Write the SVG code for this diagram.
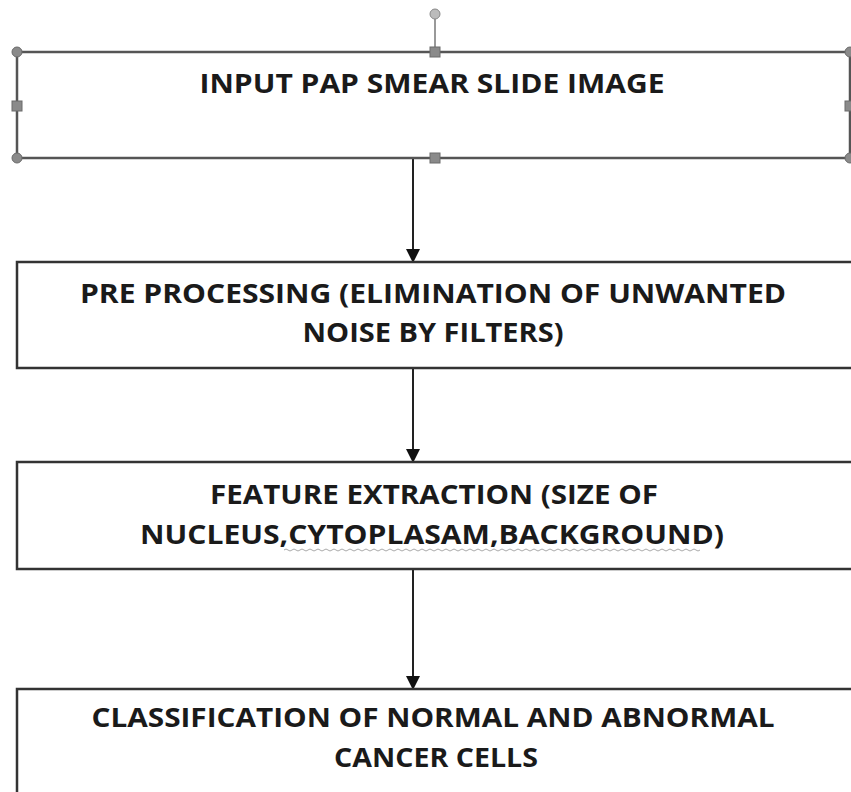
<svg xmlns="http://www.w3.org/2000/svg" width="851" height="792" viewBox="0 0 851 792">
<defs>
<style>
.box{fill:#fff;stroke:#333;stroke-width:2.5}
.t{font-family:"Open Sans","Liberation Sans",sans-serif;font-weight:bold;font-size:27px;fill:#1a1a1a;text-anchor:middle}
.conn{stroke:#222;stroke-width:2;fill:none}
.h{fill:#8a8a8a;stroke:#6a6a6a;stroke-width:1}
</style>
<marker id="ah" markerWidth="14" markerHeight="16" refX="13" refY="7" orient="auto" markerUnits="userSpaceOnUse">
<path d="M0,0 L14,7 L0,14 Z" fill="#111"/>
</marker>
</defs>
<rect width="851" height="792" fill="#fff"/>
<g id="connectors">
<line class="conn" x1="413" y1="158" x2="413" y2="262" marker-end="url(#ah)"/>
<line class="conn" x1="413" y1="368" x2="413" y2="462" marker-end="url(#ah)"/>
<line class="conn" x1="413" y1="569" x2="413" y2="689" marker-end="url(#ah)"/>
</g>
<g id="node1">
<rect class="box" x="17" y="52" width="833" height="106" style="stroke:#555"/>
<text class="t" x="432" y="93" textLength="465" lengthAdjust="spacingAndGlyphs">INPUT PAP SMEAR SLIDE IMAGE</text>
<line x1="435" y1="19" x2="435" y2="52" stroke="#777" stroke-width="1.5"/>
<circle cx="435" cy="14" r="5" fill="#bbb" stroke="#888" stroke-width="1"/>
<circle class="h" cx="17" cy="52" r="5"/>
<circle class="h" cx="850" cy="52" r="5"/>
<circle class="h" cx="17" cy="158" r="5"/>
<circle class="h" cx="850" cy="158" r="5"/>
<rect class="h" x="430" y="47" width="10" height="10"/>
<rect class="h" x="430" y="153" width="10" height="10"/>
<rect class="h" x="12" y="101" width="10" height="10"/>
<rect class="h" x="845" y="101" width="10" height="10"/>
</g>
<g id="node2">
<rect class="box" x="17" y="262" width="836" height="106"/>
<text class="t" x="433" y="303" textLength="706" lengthAdjust="spacingAndGlyphs">PRE PROCESSING (ELIMINATION OF UNWANTED</text>
<text class="t" x="433" y="342" textLength="261" lengthAdjust="spacingAndGlyphs">NOISE BY FILTERS)</text>
</g>
<g id="node3">
<rect class="box" x="17" y="462" width="836" height="107"/>
<text class="t" x="434" y="504" textLength="448" lengthAdjust="spacingAndGlyphs">FEATURE EXTRACTION (SIZE OF</text>
<text class="t" x="432" y="544" textLength="584" lengthAdjust="spacingAndGlyphs">NUCLEUS,CYTOPLASAM,BACKGROUND)</text>
<path d="M284,550 q2,-2 4,0 t4,0 t4,0 t4,0 t4,0 t4,0 t4,0 t4,0 t4,0 t4,0 t4,0 t4,0 t4,0 t4,0 t4,0 t4,0 t4,0 t4,0 t4,0 t4,0 t4,0 t4,0 t4,0 t4,0 t4,0 t4,0 t4,0 t4,0 t4,0 t4,0 t4,0 t4,0 t4,0 t4,0 t4,0 t4,0 t4,0 t4,0 t4,0 t4,0 t4,0 t4,0 t4,0 t4,0 t4,0 t4,0 t4,0 t4,0 t4,0 t4,0 t4,0 t4,0 t4,0 t4,0 t4,0 t4,0 t4,0 t4,0 t4,0 t4,0 t4,0 t4,0 t4,0 t4,0 t4,0 t4,0 t4,0 t4,0 t4,0 t4,0 t4,0 t4,0 t4,0 t4,0 t4,0 t4,0 t4,0 t4,0 t4,0 t4,0 t4,0 t4,0 t4,0 t4,0 t4,0 t4,0 t4,0 t4,0 t4,0 t4,0 t4,0 t4,0 t4,0 t4,0 t4,0 t4,0 t4,0 t4,0 t4,0 t4,0 t4,0 t4,0 t4,0 t4,0" fill="none" stroke="#aaa" stroke-width="1"/>
</g>
<g id="node4">
<rect class="box" x="17" y="689" width="836" height="120"/>
<text class="t" x="433" y="727" textLength="683" lengthAdjust="spacingAndGlyphs">CLASSIFICATION OF NORMAL AND ABNORMAL</text>
<text class="t" x="436" y="767" textLength="204" lengthAdjust="spacingAndGlyphs">CANCER CELLS</text>
</g>
</svg>
